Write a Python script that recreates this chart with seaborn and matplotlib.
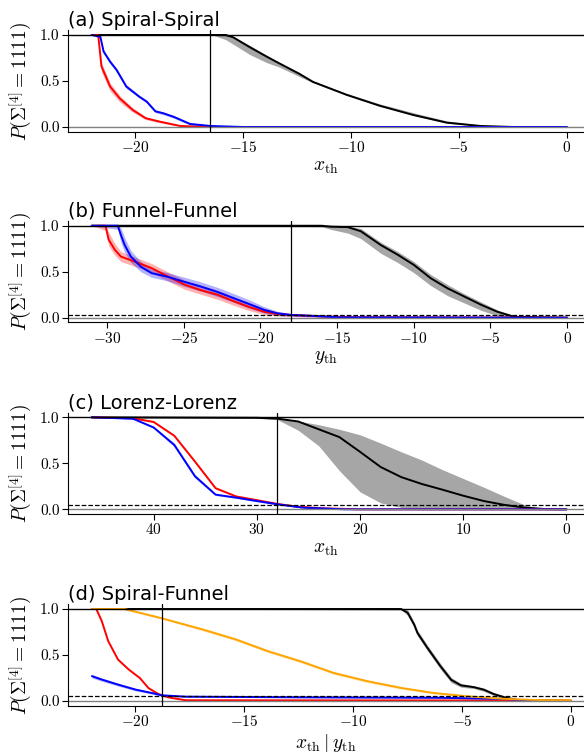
import seaborn as sns
import matplotlib
matplotlib.use("Agg")
import matplotlib.pyplot as plt

# ---- (a) Spiral-Spiral ----
red_a_x = [-22, -21.7, -21.55, -21.15, -20.7, -20.1, -19.5, -18.85, -17.9, -17.0, -16.0, 0]
red_a_y = [1.0, 1.0, 0.66, 0.44, 0.31, 0.185, 0.095, 0.058, 0.011, 0.003, 0.0, 0.0]
red_a_lo = [1.0, 0.98, 0.60, 0.39, 0.27, 0.16, 0.08, 0.045, 0.005, 0.0, 0.0, 0.0]
red_a_hi = [1.0, 1.0, 0.70, 0.48, 0.34, 0.21, 0.11, 0.07, 0.02, 0.006, 0.0, 0.0]
blue_a_x = [-22, -21.6, -21.45, -21.15, -20.85, -20.4, -19.8, -19.45, -19.05, -18.7, -18.2, -17.45, -16.5, -15.0, 0]
blue_a_y = [1.0, 0.98, 0.82, 0.71, 0.62, 0.44, 0.33, 0.275, 0.17, 0.15, 0.11, 0.033, 0.011, 0.0, 0.0]
blue_a_lo = [1.0, 0.96, 0.80, 0.69, 0.60, 0.42, 0.315, 0.26, 0.155, 0.135, 0.095, 0.022, 0.004, 0.0, 0.0]
blue_a_hi = [1.0, 1.0, 0.84, 0.73, 0.64, 0.46, 0.345, 0.29, 0.185, 0.165, 0.125, 0.045, 0.02, 0.003, 0.0]
black_a_x = [-22, -16.4, -15.8, -15.45, -14.7, -13.9, -13.3, -12.4, -11.75, -10.2, -8.65, -7.1, -5.55, -4.0, -2.5, 0]
black_a_y = [1.0, 1.0, 1.0, 0.975, 0.87, 0.765, 0.69, 0.58, 0.49, 0.35, 0.23, 0.13, 0.047, 0.011, 0.0, 0.0]
black_a_lo = [1.0, 1.0, 0.95, 0.90, 0.79, 0.70, 0.65, 0.55, 0.48, 0.345, 0.225, 0.125, 0.04, 0.008, 0.0, 0.0]
black_a_hi = [1.0, 1.0, 1.0, 0.985, 0.89, 0.78, 0.70, 0.59, 0.50, 0.365, 0.25, 0.155, 0.065, 0.02, 0.002, 0.0]

# ---- (b) Funnel-Funnel ----
red_b_x = [-31, -30.1, -29.9, -29.5, -29.1, -28.2, -27.1, -26.05, -24.95, -23.9, -22.8, -21.9, -20.8, -19.75, -18.9, -18.0, -16.0, -14.0, 0]
red_b_y = [1.0, 1.0, 0.85, 0.74, 0.665, 0.61, 0.54, 0.45, 0.36, 0.30, 0.25, 0.19, 0.12, 0.065, 0.04, 0.03, 0.015, 0.005, 0.0]
red_b_lo = [1.0, 0.95, 0.78, 0.68, 0.61, 0.56, 0.49, 0.40, 0.31, 0.255, 0.20, 0.145, 0.08, 0.035, 0.02, 0.015, 0.005, 0.0, 0.0]
red_b_hi = [1.0, 1.0, 0.93, 0.81, 0.72, 0.66, 0.59, 0.50, 0.41, 0.35, 0.30, 0.235, 0.165, 0.10, 0.065, 0.045, 0.025, 0.01, 0.0]
blue_b_x = [-31, -29.3, -29.1, -28.85, -28.45, -27.8, -27.1, -26.05, -24.95, -23.9, -22.8, -21.7, -20.6, -19.75, -18.9, -18.0, -16.5, -15.0, 0]
blue_b_y = [1.0, 1.0, 0.90, 0.79, 0.665, 0.555, 0.485, 0.445, 0.39, 0.34, 0.28, 0.21, 0.14, 0.085, 0.048, 0.03, 0.02, 0.005, 0.0]
blue_b_lo = [1.0, 0.96, 0.82, 0.71, 0.60, 0.50, 0.44, 0.40, 0.34, 0.29, 0.23, 0.165, 0.095, 0.05, 0.025, 0.015, 0.008, 0.0, 0.0]
blue_b_hi = [1.0, 1.0, 0.98, 0.87, 0.73, 0.61, 0.53, 0.49, 0.44, 0.39, 0.33, 0.26, 0.185, 0.12, 0.07, 0.045, 0.03, 0.01, 0.0]
black_b_x = [-31, -16.0, -15.4, -14.3, -13.45, -12.15, -11.05, -10.0, -8.9, -7.8, -6.7, -5.6, -4.55, -3.45, 0]
black_b_y = [1.0, 1.0, 0.99, 0.985, 0.94, 0.79, 0.685, 0.575, 0.43, 0.32, 0.23, 0.14, 0.065, 0.01, 0.0]
black_b_lo = [1.0, 0.99, 0.96, 0.92, 0.86, 0.70, 0.60, 0.49, 0.35, 0.24, 0.16, 0.08, 0.02, 0.0, 0.0]
black_b_hi = [1.0, 1.0, 1.0, 0.995, 0.97, 0.82, 0.72, 0.61, 0.47, 0.36, 0.26, 0.17, 0.085, 0.02, 0.0]

# ---- (c) Lorenz-Lorenz ----
red_c_x = [46, 42, 40, 38, 36, 34, 32, 30, 28, 26, 23.5, 20, 0]
red_c_y = [1.0, 0.99, 0.95, 0.80, 0.52, 0.23, 0.14, 0.10, 0.058, 0.028, 0.01, 0.0, 0.0]
red_c_lo = [1.0, 0.985, 0.94, 0.79, 0.51, 0.22, 0.135, 0.095, 0.052, 0.022, 0.006, 0.0, 0.0]
red_c_hi = [1.0, 0.995, 0.96, 0.81, 0.53, 0.24, 0.145, 0.105, 0.064, 0.034, 0.014, 0.002, 0.0]
blue_c_x = [46, 42, 40, 38, 36, 34, 32, 30, 28, 25.5, 21.5, 0]
blue_c_y = [1.0, 0.985, 0.89, 0.70, 0.36, 0.16, 0.127, 0.09, 0.055, 0.018, 0.0, 0.0]
blue_c_lo = [1.0, 0.98, 0.88, 0.68, 0.34, 0.15, 0.12, 0.083, 0.048, 0.012, 0.0, 0.0]
blue_c_hi = [1.0, 0.99, 0.90, 0.72, 0.38, 0.17, 0.134, 0.097, 0.062, 0.024, 0.003, 0.0]
black_c_x = [46, 30, 28, 26, 24, 22, 20, 18, 16, 14, 12, 10, 8, 6, 4, 2, 0]
black_c_y = [1.0, 0.995, 0.986, 0.955, 0.87, 0.785, 0.625, 0.46, 0.35, 0.275, 0.213, 0.148, 0.09, 0.048, 0.018, 0.002, 0.0]
black_c_lo = [1.0, 0.99, 0.975, 0.86, 0.69, 0.42, 0.19, 0.07, 0.02, 0.003, 0.0, 0.0, 0.0, 0.0, 0.0, 0.0, 0.0]
black_c_hi = [1.0, 1.0, 0.995, 0.96, 0.92, 0.87, 0.81, 0.72, 0.625, 0.535, 0.43, 0.335, 0.24, 0.14, 0.045, 0.005, 0.0]

# ---- (d) Spiral-Funnel ----
orange_d_x = [-22, -20.5, -18.8, -16.95, -15.4, -13.9, -12.4, -10.9, -9.35, -7.8, -6.3, -4.75, -3.2, -1.7, 0]
orange_d_y = [1.0, 1.0, 0.90, 0.78, 0.67, 0.54, 0.43, 0.305, 0.215, 0.142, 0.087, 0.051, 0.025, 0.011, 0.008]
orange_d_lo = [1.0, 0.99, 0.89, 0.765, 0.655, 0.525, 0.415, 0.29, 0.20, 0.13, 0.077, 0.043, 0.019, 0.007, 0.005]
orange_d_hi = [1.0, 1.0, 0.91, 0.795, 0.685, 0.555, 0.445, 0.32, 0.23, 0.155, 0.097, 0.059, 0.031, 0.015, 0.011]
red_d_x = [-22, -21.8, -21.55, -21.25, -20.8, -20.3, -19.8, -19.4, -18.95, -18.5, -17.7, 0]
red_d_y = [1.0, 1.0, 0.87, 0.65, 0.45, 0.34, 0.25, 0.14, 0.076, 0.04, 0.008, 0.005]
blue_d_x = [-22, -21.55, -20.8, -20.0, -19.25, -18.8, -17.7, -12.0, -6.0, -3.0, -2.0, 0]
blue_d_y = [0.27, 0.233, 0.178, 0.124, 0.087, 0.062, 0.047, 0.04, 0.035, 0.022, 0.005, 0.0]
blue_d_lo = [0.25, 0.215, 0.162, 0.11, 0.076, 0.054, 0.04, 0.034, 0.03, 0.018, 0.002, 0.0]
blue_d_hi = [0.29, 0.25, 0.195, 0.138, 0.098, 0.07, 0.054, 0.046, 0.04, 0.026, 0.008, 0.0]
black_d_x = [-22, -7.8, -7.5, -7.2, -7.05, -6.6, -6.0, -5.5, -5.05, -4.45, -4.0, -3.55, -3.05, -2.45, 0]
black_d_y = [1.0, 1.0, 0.96, 0.83, 0.74, 0.58, 0.38, 0.23, 0.17, 0.15, 0.123, 0.076, 0.04, 0.011, 0.0]
black_d_lo = [1.0, 0.99, 0.93, 0.80, 0.71, 0.55, 0.35, 0.20, 0.15, 0.135, 0.105, 0.06, 0.028, 0.004, 0.0]
black_d_hi = [1.0, 1.0, 0.99, 0.86, 0.77, 0.61, 0.41, 0.255, 0.19, 0.165, 0.14, 0.092, 0.052, 0.018, 0.0]

titles = ["(a) Spiral-Spiral", "(b) Funnel-Funnel", "(c) Lorenz-Lorenz", "(d) Spiral-Funnel"]
xlabels = [r"$x_{\rm th}$", r"$y_{\rm th}$", r"$x_{\rm th}$", r"$x_{\rm th} \mid y_{\rm th}$"]
thresholds = [-16.5, -18.0, 28.0, -18.8]
dashed_levels = [None, 0.025, 0.05, 0.05]
xlims = [(-23.1, 0.8), (-32.55, 1.1), (48.3, -1.7), (-23.1, 0.6)]
xticks = [[-20, -15, -10, -5, 0], [-30, -25, -20, -15, -10, -5, 0],
          [40, 30, 20, 10, 0], [-20, -15, -10, -5, 0]]

sns.set_style("ticks")
plt.rcParams["font.family"] = "serif"
plt.rcParams["font.serif"] = ["cmr10"]
plt.rcParams["mathtext.fontset"] = "cm"
plt.rcParams["axes.formatter.use_mathtext"] = True
plt.rcParams["axes.unicode_minus"] = True
# plain black text and spines like the original
for k in ["text.color", "axes.labelcolor", "xtick.color", "ytick.color", "axes.edgecolor"]:
    plt.rcParams[k] = "black"

fig = plt.figure(figsize=(5.84, 7.54), dpi=100)
bottoms = [0.8255, 0.5725, 0.3184, 0.0642]
axs = [fig.add_axes([0.1164, b, 0.8836, 0.1342]) for b in bottoms]

panels = [
    [(black_a_x, black_a_y, black_a_lo, black_a_hi, "k"),
     (red_a_x, red_a_y, red_a_lo, red_a_hi, "red"),
     (blue_a_x, blue_a_y, blue_a_lo, blue_a_hi, "blue")],
    [(black_b_x, black_b_y, black_b_lo, black_b_hi, "k"),
     (red_b_x, red_b_y, red_b_lo, red_b_hi, "red"),
     (blue_b_x, blue_b_y, blue_b_lo, blue_b_hi, "blue")],
    [(black_c_x, black_c_y, black_c_lo, black_c_hi, "k"),
     (red_c_x, red_c_y, red_c_lo, red_c_hi, "red"),
     (blue_c_x, blue_c_y, blue_c_lo, blue_c_hi, "blue")],
    [(black_d_x, black_d_y, black_d_lo, black_d_hi, "k"),
     (red_d_x, red_d_y, None, None, "red"),
     (blue_d_x, blue_d_y, blue_d_lo, blue_d_hi, "blue"),
     (orange_d_x, orange_d_y, orange_d_lo, orange_d_hi, "orange")],
]

for i, ax in enumerate(axs):
    for x, y, lo, hi, c in panels[i]:
        if lo is not None:
            if c == "k":
                ax.fill_between(x, lo, hi, color="gray", alpha=0.7, lw=0)
            else:
                ax.fill_between(x, lo, hi, color=c, alpha=0.3, lw=0)
        sns.lineplot(x=x, y=y, color=c, lw=1.4, sort=False, estimator=None, ax=ax)
    ax.axhline(1.0, color="k", lw=1.0)
    ax.axhline(0.0, color="gray", lw=1.0)
    if dashed_levels[i] is not None:
        ax.axhline(dashed_levels[i], color="k", lw=0.9, ls="--")
    ax.axvline(thresholds[i], color="k", lw=0.9)
    ax.set_xlim(*xlims[i])
    ax.set_ylim(-0.05, 1.05)
    ax.set_xticks(xticks[i])
    ax.set_yticks([0.0, 0.5, 1.0])
    ax.set_yticklabels(["0.0", "0.5", "1.0"])
    ax.tick_params(labelsize=11, length=4, width=0.8, pad=2)
    ax.set_xlabel(xlabels[i], fontsize=14, labelpad=2)
    ax.set_ylabel(r"$P(\Sigma^{[4]}=1111)$", fontsize=14, labelpad=4)
    ax.set_title(titles[i], loc="left", fontsize=14, family="DejaVu Sans", pad=3)
    sns.despine(ax=ax)

fig.savefig("out.png", dpi=100)
